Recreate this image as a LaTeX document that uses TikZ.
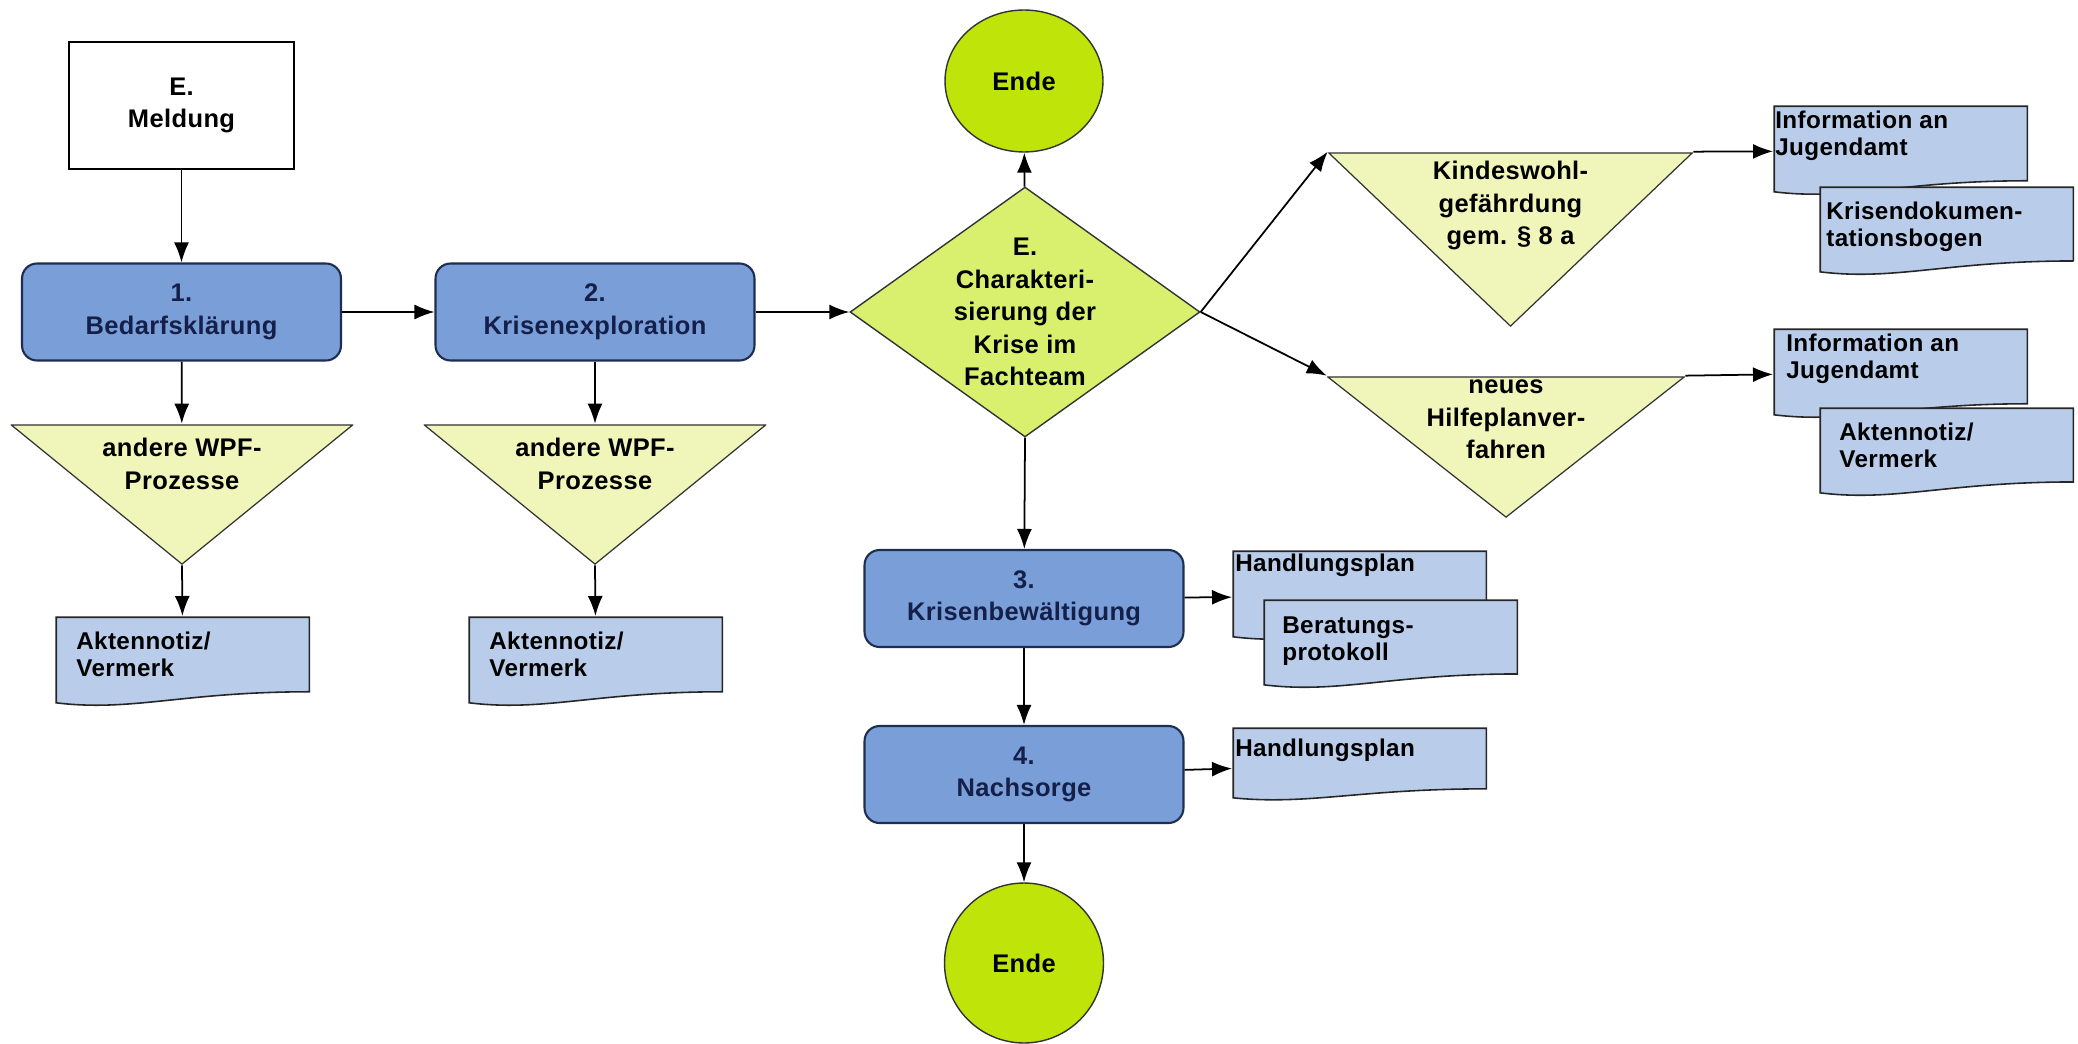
\documentclass[tikz,border=0pt]{standalone}
\usepackage{fontspec}
\setmainfont{Liberation Sans}[LetterSpace=1.5]
\usetikzlibrary{shapes.geometric}
\usetikzlibrary{arrows.meta}
\usetikzlibrary{calc}

\definecolor{stepblue}{HTML}{7A9ED8}
\definecolor{stepline}{HTML}{1E2D50}
\definecolor{steptext}{HTML}{14204A}
\definecolor{docblue}{HTML}{B9CDEB}
\definecolor{triyellow}{HTML}{F0F5B9}
\definecolor{decgreen}{HTML}{D8F06E}
\definecolor{endgreen}{HTML}{BEE40A}

\begin{document}
\begin{tikzpicture}[
            x=0.02cm, y=-0.02cm,
            font=\fontsize{14.5}{18.5}\selectfont\bfseries,
            >={Latex[length=0.4cm, width=0.3cm]},
            flow/.style={->, line width=1pt},
            startbox/.style={
                rectangle,
                draw=black,
                line width=0.9pt,
                fill=white,
                minimum width=4.5cm,
                minimum height=2.54cm,
                align=center
            },
            stepbox/.style={
                rectangle,
                rounded corners=0.3cm,
                draw=stepline,
                line width=1.2pt,
                fill=stepblue,
                text=steptext,
                minimum width=6.38cm,
                minimum height=1.94cm,
                align=center
            },
            decision/.style={
                diamond,
                aspect=1.4,
                draw=black!80,
                line width=0.8pt,
                fill=decgreen,
                minimum width=7cm,
                minimum height=5cm,
                inner sep=-0.4cm,
                align=center
            },
            ende/.style={
                ellipse,
                draw=black!80,
                line width=0.8pt,
                fill=endgreen,
                inner sep=0pt
            },
            tri/.style 2 args={
                minimum width=#1,
                minimum height=#2,
                inner sep=0pt,
                path picture={
                    \draw[fill=triyellow, draw=black!80, line width=0.7pt]
                        let \p1=(path picture bounding box.north west),
                            \p2=(path picture bounding box.south east)
                        in (\x1+0.4pt,\y1-0.5pt) -- (\x2-0.4pt,\y1-0.5pt)
                        -- ({0.5*(\x1+\x2)},\y2+0.5pt) -- cycle;
                }
            },
            tritext/.style={align=center, inner sep=0pt},
            docbox/.style n args={3}{
                anchor=north west,
                inner sep=0pt,
                path picture={
                    \draw[fill=docblue, draw=black!85, line width=0.9pt]
                        let \p1=(path picture bounding box.north west),
                            \p2=(path picture bounding box.south east)
                        in (\x1+0.5pt,\y1-0.5pt) -- (\x2-0.5pt,\y1-0.5pt)
                        -- (\x2-0.5pt,{\y1-0.82*(\y1-\y2)})
                        .. controls ({\x1+0.5*(\x2-\x1)},{\y1-0.82*(\y1-\y2)})
                                and ({\x1+0.3*(\x2-\x1)},{\y1-1.04*(\y1-\y2)})
                        .. (\x1+0.5pt,{\y1-0.94*(\y1-\y2)}) -- cycle;
                },
                execute at begin node={\begin{minipage}[c][#1][t]{5.1cm}\raggedright\leftskip=#2\fontsize{13.8}{15.6}\selectfont\rule{0pt}{#3}},
                execute at end node={\end{minipage}}
            }
        ]
        \useasboundingbox[fill=white] (0,0) rectangle (2078,1044);

        \node[startbox] (meldung) at (181.5,105.5) {E.\\Meldung};
        \node[stepbox] (bedarf) at (181.5,312) {1.\\Bedarfsklärung};
        \node[stepbox] (explor) at (595,312) {2.\\Krisenexploration};
        \node[decision] (charak) at (1025,312) {E.\\Charakteri-\\sierung der\\Krise im\\Fachteam};
        \node[ende, minimum width=3.16cm, minimum height=2.84cm] (endeTop) at (1024,81) {Ende};
        \node[stepbox] (krisen) at (1024,598.5) {3.\\Krisenbewältigung};
        \node[stepbox] (nachsorge) at (1024,774.5) {4.\\Nachsorge};
        \node[ende, minimum width=3.18cm, minimum height=3.2cm] (endeBot) at (1024,963) {Ende};

        \node[tri={6.86cm}{2.82cm}] (wpfA) at (182,494.5) {};
        \node[tritext] (wpfAtext) at ([yshift=-0.8cm]wpfA.north) {andere WPF-\\Prozesse};
        \node[tri={6.86cm}{2.82cm}] (wpfB) at (595,494.5) {};
        \node[tritext] (wpfBtext) at ([yshift=-0.8cm]wpfB.north) {andere WPF-\\Prozesse};
        \node[tri={7.3cm}{3.5cm}] (kindes) at (1510.5,239.5) {};
        \node[tritext] (kindestext) at ([yshift=-1.08cm]kindes.north) {Kindeswohl-\\gefährdung\\gem. § 8 a};
        \node[tri={7.16cm}{2.84cm}] (neues) at (1506,447) {};
        \node[tritext] (neuestext) at ([yshift=-0.88cm]neues.north) {neues\\Hilfeplanver-\\fahren};

        \node[docbox={1.84cm}{0.42cm}{0.66cm}] (aktA) at (55,616) {Aktennotiz/\\Vermerk};
        \node[docbox={1.84cm}{0.42cm}{0.66cm}] (aktB) at (468,616) {Aktennotiz/\\Vermerk};
        \node[docbox={1.84cm}{0.04cm}{0.46cm}] (infoK) at (1773,105) {Information an\\Jugendamt};
        \node[docbox={1.82cm}{0.14cm}{0.66cm}] (krisendok) at (1819,186) {Krisendokumen-\\tationsbogen};
        \node[docbox={1.84cm}{0.26cm}{0.46cm}] (infoH) at (1773,328) {Information an\\Jugendamt};
        \node[docbox={1.82cm}{0.4cm}{0.66cm}] (aktC) at (1819,407) {Aktennotiz/\\Vermerk};
        \node[docbox={1.84cm}{0.06cm}{0.42cm}] (handlA) at (1232,550) {Handlungsplan};
        \node[docbox={1.82cm}{0.38cm}{0.68cm}] (beratung) at (1263,599) {Beratungs-\\protokoll};
        \node[docbox={1.5cm}{0.06cm}{0.58cm}] (handlB) at (1232,727) {Handlungsplan};

        \draw[flow] (meldung) -- (bedarf);
        \draw[flow] (bedarf) -- (explor);
        \draw[flow] (explor) -- (charak);
        \draw[flow] (bedarf) -- (wpfA);
        \draw[flow] (explor) -- (wpfB);
        \draw[flow] (wpfA.south) -- (aktA);
        \draw[flow] (wpfB.south) -- (aktB);
        \draw[flow] (charak) -- (endeTop);
        \draw[flow] (charak.east) -- (kindes.north west);
        \draw[flow] (charak.east) -- (neues.north west);
        \draw[flow] (kindes.north east) -- (infoK.west);
        \draw[flow] (neues.north east) -- (infoH.west);
        \draw[flow] (charak.south) -- (krisen);
        \draw[flow] (krisen) -- (handlA);
        \draw[flow] (krisen) -- (nachsorge);
        \draw[flow] (nachsorge) -- (handlB);
        \draw[flow] (nachsorge) -- (endeBot);
        \end{tikzpicture}
\end{document}
